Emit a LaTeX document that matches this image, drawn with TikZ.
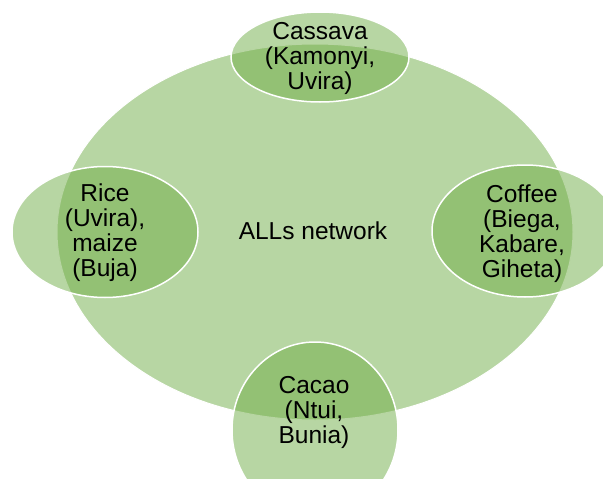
\documentclass[tikz,border=0pt]{standalone}
\usepackage{fontspec}
\setmainfont{Liberation Sans}
\usetikzlibrary{shapes.geometric}

\definecolor{leafgreen}{HTML}{70AD47}

\tikzset{
  crop/.style={ellipse, inner sep=0pt, fill=leafgreen, fill opacity=0.5,
    draw=white, line width=1.5pt},
  croptext/.style={align=center, inner sep=0pt, text=black,
    font=\fontsize{24.5}{25}\selectfont},
}

\begin{document}
\begin{tikzpicture}[x=1pt, y=-1pt]
    \useasboundingbox (0,0) rectangle (603,479);
    \clip (0,0) rectangle (603,479);

    % network
    \node[crop, line width=1pt, minimum width=516pt, minimum height=376pt] (net) at (315,232) {};

    % crops round the network
    \node[crop, minimum width=178pt, minimum height=90pt] (cassava) at (320,57) {};
    \node[crop, minimum width=186pt, minimum height=131pt] (rice) at (105,232) {};
    \node[crop, minimum width=186pt, minimum height=132pt] (coffee) at (525,231) {};
    \node[crop, minimum width=166pt, minimum height=176pt] (cacao) at (315,430) {};

    % texts
    \node[croptext] (netText) at (313,231) {ALLs network};
    \node[croptext] (cassavaText) at (320,58) {Cassava\\(Kamonyi,\\Uvira)};
    \node[croptext] (riceText) at (105,233) {Rice\\(Uvira),\\maize\\(Buja)};
    \node[croptext] (coffeeText) at (522,234) {Coffee\\(Biega,\\Kabare,\\Giheta)};
    \node[croptext] (cacaoText) at (314,412) {Cacao\\(Ntui,\\Bunia)};
\end{tikzpicture}
\end{document}
